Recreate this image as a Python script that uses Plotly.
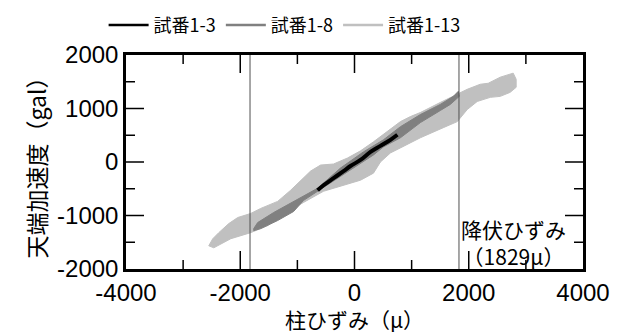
import plotly.graph_objects as go

# ---- data (strain in μ, acceleration in gal) ----
series_names = ["試番1-3", "試番1-8", "試番1-13"]

# 試番1-13 : outline of the hysteresis band
s13_strain = [-2551, -2481, -2376, -2201, -2044, -1817, -1642, -1345, -1118, -943, -769, -594,
              -367, -122, 105, 332, 629, 804, 978, 1153, 1502, 1799, 1974, 2201, 2341, 2551,
              2778, 2830, 2830, 2725, 2551, 2376, 2149, 1974, 1799, 1555, 1153, 804, 629, 454,
              332, 105, -192, -542, -891, -1170, -1520, -1817, -2166, -2463, -2551]
s13_accel = [-1566, -1434, -1321, -1151, -1038, -962, -868, -736, -528, -340, -170, -57,
             -38, 75, 208, 377, 604, 755, 849, 925, 1113, 1264, 1359, 1453, 1472, 1585,
             1661, 1547, 1396, 1302, 1227, 1208, 1132, 981, 755, 642, 453, 264, 170, 0,
             -208, -340, -434, -547, -755, -925, -1189, -1321, -1434, -1604, -1566]

# 試番1-8 : outline of the hysteresis band
s8_strain = [-1764, -1695, -1415, -1118, -821, -646, -245, 157, 507, 804, 1153, 1502, 1730, 1817,
             1834, 1677, 1502, 1153, 804, 507, 332, -70, -542, -891, -1066, -1345, -1642, -1764, -1764]
s8_accel = [-1245, -1132, -944, -774, -604, -491, -113, 189, 415, 660, 887, 1076, 1227, 1321,
            1227, 1076, 962, 736, 453, 283, 132, -151, -472, -717, -925, -1094, -1245, -1283, -1245]

# 試番1-3 : nearly linear response
s3_strain = [-646, -542, -367, -192, -70, 105, 280, 454, 629, 751]
s3_accel = [-528, -434, -302, -170, -75, 38, 189, 302, 415, 509]

yield_strain = 1829
x_range = [-4000, 4000]
y_range = [-2000, 2000]
x_major = [-4000, -2000, 0, 2000, 4000]
x_minor = [-3000, -1000, 1000, 3000]
y_major = [-2000, -1000, 0, 1000, 2000]
y_minor = [-1500, -500, 500, 1500]

colors = ["#000000", "#808080", "#c0c0c0"]
FONT = "Liberation Sans, Arial, Noto Sans CJK JP, sans-serif"
JFONT = "Noto Sans CJK JP, Liberation Sans, sans-serif"

# plot-area size in px (for tick lengths)
W, H = 612, 326
ML, MR, MT, MB = 118, 37, 47, 65
PW, PH = W - ML - MR, H - MT - MB
MAJOR_LEN, MINOR_LEN = 18, 9

fig = go.Figure()

fig.add_trace(go.Scatter(x=s13_strain, y=s13_accel, mode="lines", fill="toself",
                         fillcolor=colors[2], line=dict(color=colors[2], width=1),
                         showlegend=False, hoverinfo="skip"))
fig.add_trace(go.Scatter(x=s8_strain, y=s8_accel, mode="lines", fill="toself",
                         fillcolor=colors[1], line=dict(color=colors[1], width=1),
                         showlegend=False, hoverinfo="skip"))
fig.add_trace(go.Scatter(x=s3_strain, y=s3_accel, mode="lines",
                         line=dict(color=colors[0], width=4, shape="spline"),
                         showlegend=False, hoverinfo="skip"))

for name, c in zip(series_names, colors):
    fig.add_trace(go.Scatter(x=[None], y=[None], mode="lines", name=name,
                             line=dict(color=c, width=2.5)))

# yield strain lines
for xv in (-yield_strain, yield_strain):
    fig.add_shape(type="line", xref="x", yref="paper", x0=xv, x1=xv, y0=0, y1=1,
                  line=dict(color="#505050", width=1), layer="above")

# inside tick marks on all four sides
tick_line = dict(color="#000000", width=1.5)
for vals, ln in ((x_major[1:-1], MAJOR_LEN), (x_minor, MINOR_LEN)):
    f = ln / PH
    for v in vals:
        fig.add_shape(type="line", xref="x", yref="paper", x0=v, x1=v, y0=0, y1=f,
                      line=tick_line, layer="above")
        fig.add_shape(type="line", xref="x", yref="paper", x0=v, x1=v, y0=1, y1=1 - f,
                      line=tick_line, layer="above")
for vals, ln in ((y_major[1:-1], MAJOR_LEN), (y_minor, MINOR_LEN)):
    f = ln / PW
    for v in vals:
        fig.add_shape(type="line", xref="paper", yref="y", x0=0, x1=f, y0=v, y1=v,
                      line=tick_line, layer="above")
        fig.add_shape(type="line", xref="paper", yref="y", x0=1, x1=1 - f, y0=v, y1=v,
                      line=tick_line, layer="above")

fig.add_annotation(x=2790, y=-1500, xref="x", yref="y",
                   text="降伏ひずみ<br>（1829μ）", showarrow=False,
                   font=dict(family=JFONT, size=21, color="#000000"), align="center")

axis_common = dict(showline=True, linecolor="#000000", linewidth=2.5, mirror=True,
                   tickfont=dict(family=FONT, size=24, color="#000000"))

fig.update_xaxes(range=x_range, tickmode="array", tickvals=x_major,
                 ticktext=[str(v) for v in x_major],
                 title=dict(text="柱ひずみ（μ）", font=dict(family=JFONT, size=21, color="#000000"),
                            standoff=0),
                 **axis_common)
fig.update_yaxes(range=y_range, tickmode="array", tickvals=y_major,
                 ticktext=[str(v) for v in y_major],
                 title=dict(text="天端加速度（gal）", font=dict(family=JFONT, size=23, color="#000000"),
                            standoff=5),
                 **axis_common)

fig.update_layout(
    width=W, height=H,
    margin=dict(l=ML, r=MR, t=MT, b=MB, autoexpand=False),
    plot_bgcolor="white",
    font=dict(family=FONT, color="#000000"),
    legend=dict(orientation="h", x=-0.049, y=1.139, xanchor="left", yanchor="middle",
                font=dict(family=JFONT, size=18, color="#000000"),
                bgcolor="rgba(0,0,0,0)", itemwidth=40),
)

fig.write_html("out.html")
